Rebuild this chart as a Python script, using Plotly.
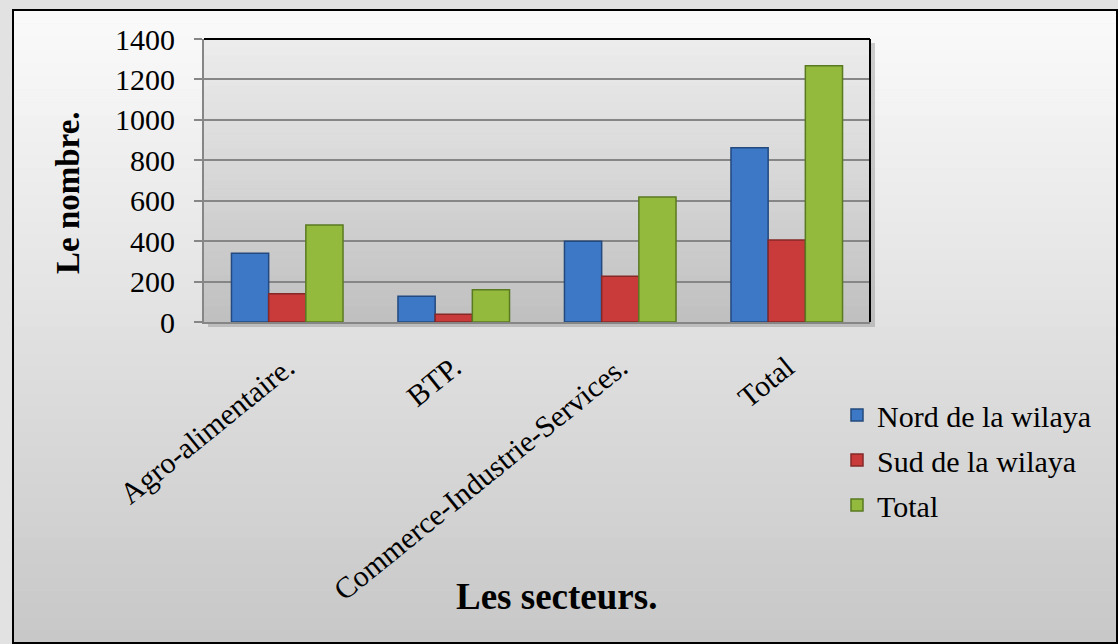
import plotly.graph_objects as go

categories = ["Agro-alimentaire.", "BTP.", "Commerce-Industrie-Services.", "Total"]
series_names = ["Nord de la wilaya", "Sud de la wilaya", "Total"]
nord = [340, 128, 400, 862]
sud = [140, 38, 226, 406]
total = [480, 160, 618, 1268]
y_ticks = [0, 200, 400, 600, 800, 1000, 1200, 1400]

W, H = 1118, 644
L, R, T, B = 204, 248, 39, 322
PW, PH = W - L - R, H - T - B


def px_x(x):
    return (x - L) / PW


def px_y(y):
    return (H - B - y) / PH


def lerp_col(c1, c2, f):
    return "rgb(%d,%d,%d)" % tuple(round(a + (b - a) * f) for a, b in zip(c1, c2))


FONT = "Liberation Serif, Times New Roman, serif"
shapes = []

# outer chart area gradient
x0, x1, y0, y1 = 13, 1117, 10, 643
n = 48
for i in range(n):
    ya = y0 + (y1 - y0) * i / n
    yb = y0 + (y1 - y0) * (i + 1) / n + 0.5
    shapes.append(dict(type="rect", xref="paper", yref="paper", layer="below",
                       x0=px_x(x0), x1=px_x(x1), y0=px_y(ya), y1=px_y(yb),
                       line=dict(width=0),
                       fillcolor=lerp_col((250, 250, 250), (200, 200, 200), i / (n - 1))))
shapes.append(dict(type="rect", xref="paper", yref="paper", layer="below",
                   x0=px_x(x0), x1=px_x(x1), y0=px_y(y0), y1=px_y(y1),
                   line=dict(color="black", width=2), fillcolor="rgba(0,0,0,0)"))

# plot area shadow
shapes.append(dict(type="rect", xref="paper", yref="paper", layer="below",
                   x0=px_x(L + 4), x1=px_x(L + PW + 5), y0=px_y(T + 4), y1=px_y(T + PH + 5),
                   line=dict(width=0), fillcolor="rgba(120,120,120,0.35)"))
# plot area gradient
n2 = 36
for i in range(n2):
    ya = T + PH * i / n2
    yb = T + PH * (i + 1) / n2 + 0.5
    shapes.append(dict(type="rect", xref="paper", yref="paper", layer="below",
                       x0=0, x1=1, y0=px_y(ya), y1=px_y(yb),
                       line=dict(width=0),
                       fillcolor=lerp_col((236, 236, 236), (192, 192, 192), i / (n2 - 1))))
# black top/right borders of plot area
shapes.append(dict(type="line", xref="paper", yref="paper", layer="above",
                   x0=0, x1=1, y0=1, y1=1, line=dict(color="black", width=2)))
shapes.append(dict(type="line", xref="paper", yref="paper", layer="above",
                   x0=1, x1=1, y0=0, y1=1, line=dict(color="black", width=2)))

fills = ["#3c78c6", "#c93b3b", "#93ba3d"]
lines = ["#23497e", "#862828", "#5a7a22"]
values = [nord, sud, total]

fig = go.Figure()
for name, vals, fc, lc in zip(series_names, values, fills, lines):
    fig.add_trace(go.Bar(x=categories, y=vals, name=name, legendgroup=name,
                         marker=dict(color=fc, line=dict(color=lc, width=1.5))))

fig.update_layout(
    width=W, height=H,
    margin=dict(l=L, r=R, t=T, b=B, autoexpand=False),
    paper_bgcolor="#e2e2e2",
    plot_bgcolor="rgba(0,0,0,0)",
    barmode="group", bargap=0.33, bargroupgap=0,
    font=dict(family=FONT, color="black", size=29),
    shapes=shapes,
    showlegend=True,
    legend=dict(x=px_x(837), y=px_y(389), xanchor="left", yanchor="top",
                bgcolor="rgba(0,0,0,0)", font=dict(family=FONT, size=30, color="black"),
                tracegroupgap=3, itemwidth=30),
    xaxis=dict(tickangle=-39, showline=True, linecolor="#868686", linewidth=2,
               ticks="", tickfont=dict(family=FONT, size=30), ticklabelstandoff=14,
               automargin=False, showgrid=False),
    yaxis=dict(range=[0, 1400], tickvals=y_ticks, showline=True, linecolor="#868686",
               linewidth=2, ticks="outside", ticklen=8, tickcolor="#868686", tickwidth=1.5,
               gridcolor="#868686", gridwidth=1.5, zeroline=False,
               tickfont=dict(family=FONT, size=30), ticklabelstandoff=13,
               automargin=False),
    annotations=[
        dict(text="<b>Le nombre.</b>", xref="paper", yref="paper", x=px_x(68), y=px_y(193),
             textangle=-90, showarrow=False, font=dict(family=FONT, size=33, color="black"),
             xanchor="center", yanchor="middle"),
        dict(text="<b>Les secteurs.</b>", xref="paper", yref="paper", x=px_x(556), y=px_y(596),
             showarrow=False, font=dict(family=FONT, size=37, color="black"),
             xanchor="center", yanchor="middle"),
    ],
)

fig.write_html("out.html")
